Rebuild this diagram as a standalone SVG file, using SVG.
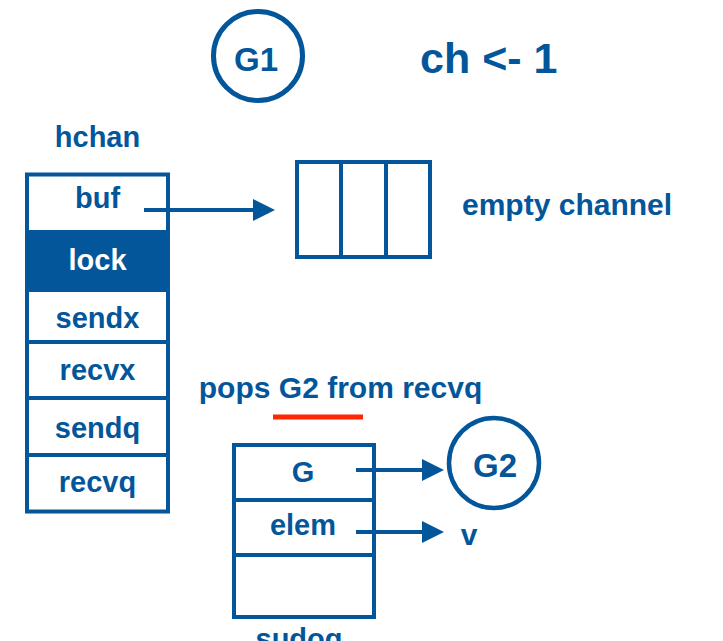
<svg xmlns="http://www.w3.org/2000/svg" width="723" height="641" viewBox="0 0 723 641">
<style>
.t{font-family:"Liberation Sans",Arial,sans-serif;font-weight:bold;fill:#03569A;}
.c{text-anchor:middle;}
.w{fill:#ffffff;}
.box{fill:#ffffff;stroke:#03569A;stroke-width:4;}
.ln{stroke:#03569A;stroke-width:4;fill:none;}
</style>
<defs>
<marker id="ah" markerUnits="userSpaceOnUse" markerWidth="22" markerHeight="22" viewBox="0 0 22 22" refX="0" refY="11" orient="auto">
<path d="M0,0 L22,11 L0,22 z" fill="#03569A"/>
</marker>
</defs>
<rect width="723" height="641" fill="#ffffff"/>

<g id="g1">
<circle cx="258" cy="56" r="44.5" fill="none" stroke="#03569A" stroke-width="5"/>
<text class="t c" x="256" y="71" font-size="33">G1</text>
</g>

<g id="title">
<text class="t" x="420" y="73" font-size="43">ch &lt;- 1</text>
</g>

<g id="hchan">
<text class="t c" x="97.5" y="147" font-size="29">hchan</text>
<rect class="box" x="27" y="174.5" width="141" height="337"/>
<rect x="27" y="232" width="141" height="58" fill="#03569A"/>
<line class="ln" x1="25" y1="232" x2="170" y2="232"/>
<line class="ln" x1="25" y1="290" x2="170" y2="290"/>
<line class="ln" x1="25" y1="342" x2="170" y2="342"/>
<line class="ln" x1="25" y1="398" x2="170" y2="398"/>
<line class="ln" x1="25" y1="455" x2="170" y2="455"/>
<text class="t c" x="97.5" y="208" font-size="29">buf</text>
<text class="t c w" x="97.5" y="270" font-size="29">lock</text>
<text class="t c" x="97.5" y="328" font-size="29">sendx</text>
<text class="t c" x="97.5" y="380" font-size="29">recvx</text>
<text class="t c" x="97.5" y="438" font-size="29">sendq</text>
<text class="t c" x="97.5" y="492" font-size="29">recvq</text>
</g>

<g id="buffer">
<rect class="box" x="297" y="162" width="133" height="95"/>
<line class="ln" x1="341" y1="162" x2="341" y2="257"/>
<line class="ln" x1="386" y1="162" x2="386" y2="257"/>
</g>

<g id="empty-label">
<text class="t" x="462" y="215" font-size="30">empty channel</text>
</g>

<g id="pops-label">
<text class="t c" x="340.5" y="398" font-size="30">pops G2 from recvq</text>
<line x1="273" y1="417" x2="363" y2="417" stroke="#FF2600" stroke-width="5"/>
</g>

<g id="sudog">
<rect class="box" x="234" y="445" width="140" height="172"/>
<line class="ln" x1="232" y1="500" x2="376" y2="500"/>
<line class="ln" x1="232" y1="555" x2="376" y2="555"/>
<text class="t c" x="303" y="482" font-size="29">G</text>
<text class="t c" x="303" y="535" font-size="29">elem</text>
<text class="t c" x="299" y="649" font-size="29">sudog</text>
</g>

<g id="g2">
<circle cx="494" cy="463" r="45" fill="none" stroke="#03569A" stroke-width="4.5"/>
<text class="t c" x="495" y="477" font-size="33">G2</text>
</g>

<g id="v">
<text class="t c" x="469" y="545" font-size="30">v</text>
</g>

<g id="connectors">
<path class="ln" d="M144,210 H253" marker-end="url(#ah)"/>
<path class="ln" d="M356,470 H422" marker-end="url(#ah)"/>
<path class="ln" d="M356,532 H422" marker-end="url(#ah)"/>
</g>
</svg>
